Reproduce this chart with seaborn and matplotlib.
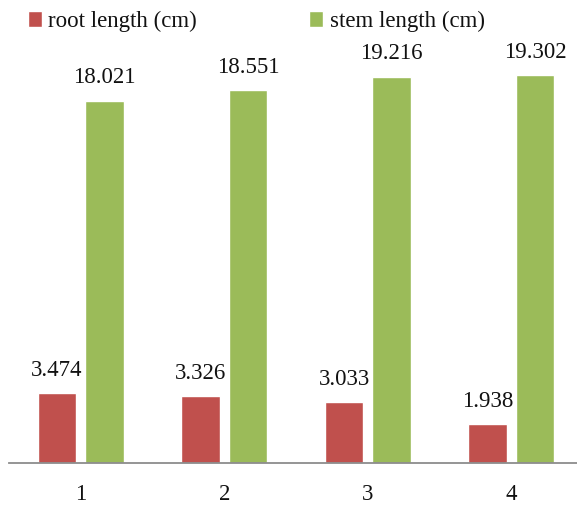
import matplotlib
matplotlib.use("Agg")
import matplotlib.pyplot as plt
import seaborn as sns
import pandas as pd

# Measurements per treatment group
groups = ["1", "2", "3", "4"]
root_length = [3.474, 3.326, 3.033, 1.938]
stem_length = [18.021, 18.551, 19.216, 19.302]
series_names = ["root length (cm)", "stem length (cm)"]
colors = ["#C0504D", "#9BBB59"]

df = pd.DataFrame({
    "group": groups * 2,
    "value": root_length + stem_length,
    "series": [series_names[0]] * len(groups) + [series_names[1]] * len(groups),
})

sns.set_style("white")
plt.rcParams["font.family"] = ["Liberation Serif", "DejaVu Serif"]

W, H = 577, 507
fig = plt.figure(figsize=(W / 100, H / 100), dpi=100)
ax = fig.add_axes([9 / W, 1 - 463 / H, 574 / W, 442.2 / H])

sns.barplot(data=df, x="group", y="value", hue="series", order=groups,
            hue_order=series_names, palette=colors, width=0.66, gap=0.18,
            saturation=1, ax=ax, legend=True)

ax.set_ylim(0, 22)
ax.set_xlim(-0.5, 3.5)
for c in ax.containers:
    ax.bar_label(c, labels=[f"{v:.3f}" for v in c.datavalues],
                 padding=9, fontsize=16.5, color="#111111")

ax.set_xlabel("")
ax.set_ylabel("")
ax.set_yticks([])
ax.tick_params(axis="x", length=0, pad=15, labelsize=16.5, labelcolor="#111111")
for s in ["top", "right", "left"]:
    ax.spines[s].set_visible(False)
ax.spines["bottom"].set_color("#8C8C8C")
ax.spines["bottom"].set_linewidth(1.3)

handles, labels = ax.get_legend_handles_labels()
ax.legend(handles, labels, ncol=2, loc="upper left",
          bbox_to_anchor=(14 / W, 1.006), bbox_transform=fig.transFigure,
          frameon=False, fontsize=16.5, handlelength=0.6, handleheight=0.7,
          handletextpad=0.3, columnspacing=4.9, borderaxespad=0.2,
          labelcolor="#111111")

fig.savefig("out.png", dpi=100)
